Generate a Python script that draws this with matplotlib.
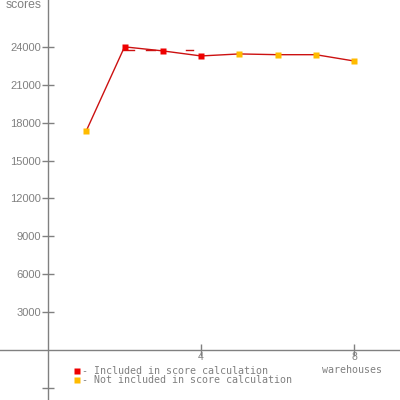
import matplotlib
matplotlib.use("Agg")
import matplotlib.pyplot as plt

warehouses = [1, 2, 3, 4, 5, 6, 7, 8]
scores = [17350, 24000, 23680, 23280, 23440, 23380, 23380, 22880]
included = [False, True, True, True, False, False, False, False]
y_ticks = [-3000, 3000, 6000, 9000, 12000, 15000, 18000, 21000, 24000]
y_tick_labels = ["", "3000", "6000", "9000", "12000", "15000", "18000", "21000", "24000"]
x_ticks = [4, 8]
x_tick_labels = ["4", "8"]
dash_starts = [1.95, 2.55, 3.6]
dash_ends = [2.25, 2.8, 3.8]
dash_value = 23750
legend_labels = ["- Included in score calculation", "- Not included in score calculation"]

fig = plt.figure(figsize=(4, 4), dpi=100)
ax = fig.add_axes([0, 0, 1, 1])
ax.set_xlim(-1.255, 9.2)
ax.set_ylim(-3960, 27710)

gray = "#808080"
for s in ["top", "right"]:
    ax.spines[s].set_visible(False)
ax.spines["left"].set_position(("data", 0))
ax.spines["bottom"].set_position(("data", 0))
for s in ["left", "bottom"]:
    ax.spines[s].set_color(gray)
    ax.spines[s].set_linewidth(1.0)

ax.set_yticks(y_ticks)
ax.set_yticklabels(y_tick_labels)
ax.set_xticks(x_ticks)
ax.set_xticklabels(x_tick_labels)
ax.tick_params(axis="both", direction="inout", length=8, color=gray, width=1,
               labelcolor=gray, labelsize=8, pad=1)
ax.tick_params(axis="x", pad=-2.5, labelsize=7.5)
for lab in ax.get_yticklabels() + ax.get_xticklabels():
    lab.set_family("Liberation Sans")

line_color = "#cc1111"
ax.plot(warehouses, scores, color=line_color, lw=1.0, zorder=2)
for a, b in zip(dash_starts, dash_ends):
    ax.plot([a, b], [dash_value, dash_value], color=line_color, lw=1.0, zorder=2)

for x, y, inc in zip(warehouses, scores, included):
    ax.plot([x], [y], marker="s", ms=4, color="#ee0000" if inc else "#ffbb00",
            mec="none", zorder=3)

ax.text(6 / 400, 1 - 8 / 400, "scores", transform=ax.transAxes, ha="left", va="baseline",
        fontsize=8.8, color=gray, family="Liberation Sans")
ax.text(352 / 400, 1 - 365 / 400, "warehouses", transform=ax.transAxes, ha="center",
        va="top", fontsize=7.2, color=gray, family="DejaVu Sans Mono")

leg_colors = ["#ee0000", "#ffbb00"]
for i, (lab, c) in enumerate(zip(legend_labels, leg_colors)):
    ypx = 371 + i * 9
    ax.plot([77 / 400], [1 - ypx / 400], marker="s", ms=4, color=c, mec="none",
            transform=ax.transAxes, clip_on=False)
    ax.text(82 / 400, 1 - ypx / 400, lab, transform=ax.transAxes, ha="left",
            va="center", fontsize=7.2, color=gray, family="DejaVu Sans Mono")

fig.savefig("out.png", dpi=100)
